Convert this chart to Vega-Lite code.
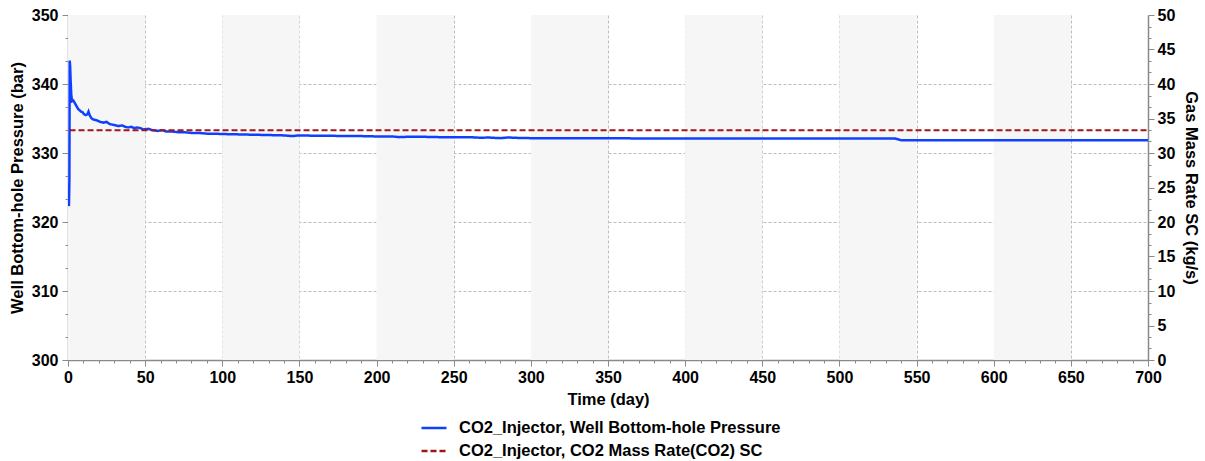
{
  "$schema": "https://vega.github.io/schema/vega-lite/v6.json",
  "width": 1080,
  "height": 345,
  "autosize": {"type": "none"},
  "padding": {"left": 68, "top": 15, "right": 57, "bottom": 101},
  "background": "white",
  "config": {
    "view": {"stroke": null},
    "font": "Liberation Sans",
    "axis": {
      "labelFont": "Liberation Sans", "labelFontSize": 16, "labelFontWeight": "bold", "labelColor": "#000",
      "titleFont": "Liberation Sans", "titleFontSize": 16.5, "titleFontWeight": "bold", "titleColor": "#000",
      "domainColor": "#8a8a8a", "domainWidth": 1.5, "tickColor": "#8a8a8a", "tickWidth": 1,
      "gridColor": "#bdbdbd", "gridDash": [3, 2], "gridWidth": 1, "zindex": 1,
      "labelOverlap": false, "labelFlush": false
    },
    "legend": {
      "orient": "none", "legendX": 352, "legendY": 399, "direction": "vertical",
      "symbolType": "stroke", "symbolSize": 625, "symbolStrokeWidth": 2.5,
      "labelFont": "Liberation Sans", "labelFontSize": 16.5, "labelFontWeight": "bold", "labelColor": "#000",
      "labelOffset": 11, "rowPadding": 0, "padding": 0, "labelLimit": 0
    }
  },
  "datasets": {
    "bands": [
      {"day": 0, "day_end": 50}, {"day": 100, "day_end": 150}, {"day": 200, "day_end": 250},
      {"day": 300, "day_end": 350}, {"day": 400, "day_end": 450}, {"day": 500, "day_end": 550},
      {"day": 600, "day_end": 650}
    ],
    "series": [
      {"series": "CO2_Injector, Well Bottom-hole Pressure", "day": 0.6, "value": 322.3},
      {"series": "CO2_Injector, Well Bottom-hole Pressure", "day": 0.9, "value": 326},
      {"series": "CO2_Injector, Well Bottom-hole Pressure", "day": 1.1, "value": 343.4},
      {"series": "CO2_Injector, Well Bottom-hole Pressure", "day": 1.4, "value": 342.5},
      {"series": "CO2_Injector, Well Bottom-hole Pressure", "day": 1.7, "value": 340.5},
      {"series": "CO2_Injector, Well Bottom-hole Pressure", "day": 2.1, "value": 338.5},
      {"series": "CO2_Injector, Well Bottom-hole Pressure", "day": 2.6, "value": 337.5},
      {"series": "CO2_Injector, Well Bottom-hole Pressure", "day": 3.5, "value": 337.6},
      {"series": "CO2_Injector, Well Bottom-hole Pressure", "day": 4.5, "value": 337.2},
      {"series": "CO2_Injector, Well Bottom-hole Pressure", "day": 5.5, "value": 336.8},
      {"series": "CO2_Injector, Well Bottom-hole Pressure", "day": 6.5, "value": 336.4},
      {"series": "CO2_Injector, Well Bottom-hole Pressure", "day": 7.5, "value": 336.2},
      {"series": "CO2_Injector, Well Bottom-hole Pressure", "day": 8.5, "value": 336.0},
      {"series": "CO2_Injector, Well Bottom-hole Pressure", "day": 9.5, "value": 335.9},
      {"series": "CO2_Injector, Well Bottom-hole Pressure", "day": 10.5, "value": 335.6},
      {"series": "CO2_Injector, Well Bottom-hole Pressure", "day": 11.5, "value": 335.5},
      {"series": "CO2_Injector, Well Bottom-hole Pressure", "day": 12.5, "value": 335.6},
      {"series": "CO2_Injector, Well Bottom-hole Pressure", "day": 13.3, "value": 336.0},
      {"series": "CO2_Injector, Well Bottom-hole Pressure", "day": 14, "value": 335.5},
      {"series": "CO2_Injector, Well Bottom-hole Pressure", "day": 15, "value": 335.1},
      {"series": "CO2_Injector, Well Bottom-hole Pressure", "day": 16, "value": 334.9},
      {"series": "CO2_Injector, Well Bottom-hole Pressure", "day": 17.5, "value": 334.8},
      {"series": "CO2_Injector, Well Bottom-hole Pressure", "day": 19, "value": 334.7},
      {"series": "CO2_Injector, Well Bottom-hole Pressure", "day": 21, "value": 334.5},
      {"series": "CO2_Injector, Well Bottom-hole Pressure", "day": 23, "value": 334.4},
      {"series": "CO2_Injector, Well Bottom-hole Pressure", "day": 25, "value": 334.5},
      {"series": "CO2_Injector, Well Bottom-hole Pressure", "day": 27, "value": 334.2},
      {"series": "CO2_Injector, Well Bottom-hole Pressure", "day": 29, "value": 334.1},
      {"series": "CO2_Injector, Well Bottom-hole Pressure", "day": 31, "value": 334.0},
      {"series": "CO2_Injector, Well Bottom-hole Pressure", "day": 33, "value": 333.9},
      {"series": "CO2_Injector, Well Bottom-hole Pressure", "day": 35, "value": 334.0},
      {"series": "CO2_Injector, Well Bottom-hole Pressure", "day": 37, "value": 333.8},
      {"series": "CO2_Injector, Well Bottom-hole Pressure", "day": 39, "value": 333.7},
      {"series": "CO2_Injector, Well Bottom-hole Pressure", "day": 41, "value": 333.8},
      {"series": "CO2_Injector, Well Bottom-hole Pressure", "day": 43, "value": 333.6},
      {"series": "CO2_Injector, Well Bottom-hole Pressure", "day": 45, "value": 333.7},
      {"series": "CO2_Injector, Well Bottom-hole Pressure", "day": 47, "value": 333.6},
      {"series": "CO2_Injector, Well Bottom-hole Pressure", "day": 49, "value": 333.4},
      {"series": "CO2_Injector, Well Bottom-hole Pressure", "day": 52, "value": 333.5},
      {"series": "CO2_Injector, Well Bottom-hole Pressure", "day": 55, "value": 333.3},
      {"series": "CO2_Injector, Well Bottom-hole Pressure", "day": 58, "value": 333.2},
      {"series": "CO2_Injector, Well Bottom-hole Pressure", "day": 61, "value": 333.3},
      {"series": "CO2_Injector, Well Bottom-hole Pressure", "day": 64, "value": 333.1},
      {"series": "CO2_Injector, Well Bottom-hole Pressure", "day": 68, "value": 333.1},
      {"series": "CO2_Injector, Well Bottom-hole Pressure", "day": 72, "value": 333.0},
      {"series": "CO2_Injector, Well Bottom-hole Pressure", "day": 76, "value": 333.0},
      {"series": "CO2_Injector, Well Bottom-hole Pressure", "day": 80, "value": 332.9},
      {"series": "CO2_Injector, Well Bottom-hole Pressure", "day": 85, "value": 332.9},
      {"series": "CO2_Injector, Well Bottom-hole Pressure", "day": 90, "value": 332.8},
      {"series": "CO2_Injector, Well Bottom-hole Pressure", "day": 95, "value": 332.8},
      {"series": "CO2_Injector, Well Bottom-hole Pressure", "day": 100, "value": 332.75},
      {"series": "CO2_Injector, Well Bottom-hole Pressure", "day": 110, "value": 332.7},
      {"series": "CO2_Injector, Well Bottom-hole Pressure", "day": 120, "value": 332.65},
      {"series": "CO2_Injector, Well Bottom-hole Pressure", "day": 130, "value": 332.6},
      {"series": "CO2_Injector, Well Bottom-hole Pressure", "day": 140, "value": 332.55},
      {"series": "CO2_Injector, Well Bottom-hole Pressure", "day": 145, "value": 332.45},
      {"series": "CO2_Injector, Well Bottom-hole Pressure", "day": 150, "value": 332.55},
      {"series": "CO2_Injector, Well Bottom-hole Pressure", "day": 160, "value": 332.5},
      {"series": "CO2_Injector, Well Bottom-hole Pressure", "day": 170, "value": 332.5},
      {"series": "CO2_Injector, Well Bottom-hole Pressure", "day": 180, "value": 332.45},
      {"series": "CO2_Injector, Well Bottom-hole Pressure", "day": 190, "value": 332.45},
      {"series": "CO2_Injector, Well Bottom-hole Pressure", "day": 200, "value": 332.4},
      {"series": "CO2_Injector, Well Bottom-hole Pressure", "day": 210, "value": 332.4},
      {"series": "CO2_Injector, Well Bottom-hole Pressure", "day": 215, "value": 332.3},
      {"series": "CO2_Injector, Well Bottom-hole Pressure", "day": 220, "value": 332.35},
      {"series": "CO2_Injector, Well Bottom-hole Pressure", "day": 230, "value": 332.35},
      {"series": "CO2_Injector, Well Bottom-hole Pressure", "day": 240, "value": 332.3},
      {"series": "CO2_Injector, Well Bottom-hole Pressure", "day": 250, "value": 332.3},
      {"series": "CO2_Injector, Well Bottom-hole Pressure", "day": 260, "value": 332.3},
      {"series": "CO2_Injector, Well Bottom-hole Pressure", "day": 268, "value": 332.2},
      {"series": "CO2_Injector, Well Bottom-hole Pressure", "day": 272, "value": 332.25},
      {"series": "CO2_Injector, Well Bottom-hole Pressure", "day": 280, "value": 332.15},
      {"series": "CO2_Injector, Well Bottom-hole Pressure", "day": 285, "value": 332.25},
      {"series": "CO2_Injector, Well Bottom-hole Pressure", "day": 290, "value": 332.2},
      {"series": "CO2_Injector, Well Bottom-hole Pressure", "day": 300, "value": 332.15},
      {"series": "CO2_Injector, Well Bottom-hole Pressure", "day": 340, "value": 332.15},
      {"series": "CO2_Injector, Well Bottom-hole Pressure", "day": 380, "value": 332.1},
      {"series": "CO2_Injector, Well Bottom-hole Pressure", "day": 450, "value": 332.1},
      {"series": "CO2_Injector, Well Bottom-hole Pressure", "day": 536, "value": 332.1},
      {"series": "CO2_Injector, Well Bottom-hole Pressure", "day": 540, "value": 331.85},
      {"series": "CO2_Injector, Well Bottom-hole Pressure", "day": 620, "value": 331.85},
      {"series": "CO2_Injector, Well Bottom-hole Pressure", "day": 700, "value": 331.85},
      {"series": "CO2_Injector, CO2 Mass Rate(CO2) SC", "day": 1, "value": 33.3},
      {"series": "CO2_Injector, CO2 Mass Rate(CO2) SC", "day": 700, "value": 33.3}
    ]
  },
  "encoding": {
    "x": {
      "field": "day", "type": "quantitative",
      "scale": {"domain": [0, 700], "nice": false, "zero": false},
      "axis": {
        "title": "Time (day)",
        "values": [0,10,20,30,40,50,60,70,80,90,100,110,120,130,140,150,160,170,180,190,200,210,220,230,240,250,260,270,280,290,300,310,320,330,340,350,360,370,380,390,400,410,420,430,440,450,460,470,480,490,500,510,520,530,540,550,560,570,580,590,600,610,620,630,640,650,660,670,680,690,700],
        "labelExpr": "datum.value % 50 == 0 ? datum.label : ''",
        "tickSize": {"condition": {"test": "datum.value % 50 == 0", "value": 6}, "value": 3},
        "gridOpacity": {"condition": {"test": "datum.value % 50 == 0 && datum.value > 0 && datum.value < 700", "value": 1}, "value": 0},
        "grid": true,
        "labelPadding": 3,
        "titlePadding": 6
      }
    }
  },
  "layer": [
    {
      "data": {"name": "bands"},
      "mark": {"type": "rect", "color": "#f6f6f6"},
      "encoding": {"x2": {"field": "day_end"}}
    },
    {
      "data": {"name": "series"},
      "transform": [{"filter": "datum.series == 'CO2_Injector, Well Bottom-hole Pressure'"}],
      "mark": {"type": "line", "strokeWidth": 2.5, "clip": true},
      "encoding": {
        "y": {
          "field": "value", "type": "quantitative",
          "scale": {"domain": [300, 350], "nice": false, "zero": false},
          "axis": {
            "orient": "left",
            "title": "Well Bottom-hole Pressure (bar)",
            "values": [300,303.3333,306.6667,310,313.3333,316.6667,320,323.3333,326.6667,330,333.3333,336.6667,340,343.3333,346.6667,350],
            "labelExpr": "datum.value % 10 == 0 ? datum.label : ''",
            "tickSize": {"condition": {"test": "datum.value % 10 == 0", "value": 6}, "value": 3},
            "gridOpacity": {"condition": {"test": "datum.value % 10 == 0 && datum.value > 300 && datum.value < 350", "value": 1}, "value": 0},
            "grid": true,
            "labelPadding": 4,
            "titlePadding": 6
          }
        },
        "color": {
          "field": "series", "type": "nominal", "title": null,
          "scale": {"domain": ["CO2_Injector, Well Bottom-hole Pressure", "CO2_Injector, CO2 Mass Rate(CO2) SC"], "range": ["#1040ff", "#a0161b"]}
        },
        "strokeDash": {
          "field": "series", "type": "nominal", "title": null,
          "scale": {"domain": ["CO2_Injector, Well Bottom-hole Pressure", "CO2_Injector, CO2 Mass Rate(CO2) SC"], "range": [[1, 0], [6, 3]]}
        }
      }
    },
    {
      "data": {"name": "series"},
      "transform": [{"filter": "datum.series == 'CO2_Injector, CO2 Mass Rate(CO2) SC'"}],
      "mark": {"type": "line", "strokeWidth": 2.2, "clip": true},
      "encoding": {
        "y": {
          "field": "value", "type": "quantitative",
          "scale": {"domain": [0, 50], "nice": false, "zero": false},
          "axis": {
            "orient": "right",
            "title": "Gas Mass Rate SC (kg/s)",
            "values": [0,1.6667,3.3333,5,6.6667,8.3333,10,11.6667,13.3333,15,16.6667,18.3333,20,21.6667,23.3333,25,26.6667,28.3333,30,31.6667,33.3333,35,36.6667,38.3333,40,41.6667,43.3333,45,46.6667,48.3333,50],
            "labelExpr": "datum.value % 5 == 0 ? datum.label : ''",
            "tickSize": {"condition": {"test": "datum.value % 5 == 0", "value": 6}, "value": 3},
            "grid": false,
            "labelPadding": 3,
            "titlePadding": 8
          }
        },
        "color": {
          "field": "series", "type": "nominal", "title": null,
          "scale": {"domain": ["CO2_Injector, Well Bottom-hole Pressure", "CO2_Injector, CO2 Mass Rate(CO2) SC"], "range": ["#1040ff", "#a0161b"]}
        },
        "strokeDash": {
          "field": "series", "type": "nominal", "title": null,
          "scale": {"domain": ["CO2_Injector, Well Bottom-hole Pressure", "CO2_Injector, CO2 Mass Rate(CO2) SC"], "range": [[1, 0], [6, 3]]}
        }
      }
    }
  ],
  "resolve": {"scale": {"y": "independent"}}
}
